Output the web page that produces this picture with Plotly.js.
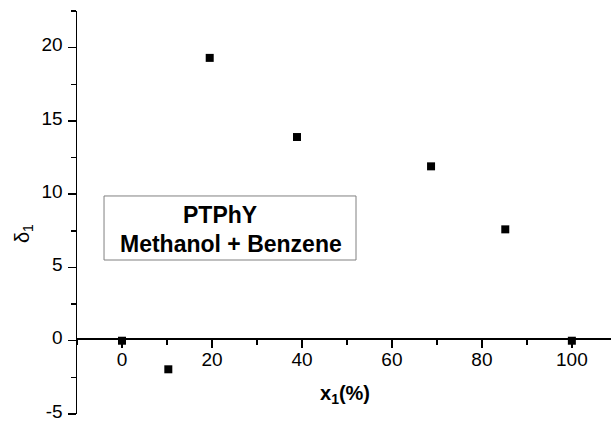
<!DOCTYPE html>
<html>
<head>
<meta charset="utf-8">
<script src="https://cdn.plot.ly/plotly-3.0.1.min.js"></script>
<style>html,body{margin:0;padding:0;background:#fff;}#chart{width:611px;height:421px;}</style>
</head>
<body>
<div id="chart"></div>
<script>
const xValues = [0, 10.3, 19.5, 38.9, 68.7, 85.2, 100];
const yValues = [0, -1.95, 19.3, 13.9, 11.9, 7.6, 0];
const xTickVals = [0, 20, 40, 60, 80, 100];
const yTickVals = [-5, 0, 5, 10, 15, 20];
const yTickText = ['-5', '0', '5', '10', '15', '20'];
const xTitle = '<b>x<sub>1</sub>(%)</b>';
const yTitle = 'δ<sub>1</sub>';
const boxLine1 = '<b>PTPhY</b>';
const boxLine2 = '<b>Methanol + Benzene</b>';

const font = 'Liberation Sans, Arial, sans-serif';

const trace = {
  x: xValues, y: yValues, type: 'scatter', mode: 'markers',
  marker: {symbol: 'square', size: 8, color: '#000'},
  showlegend: false, cliponaxis: false
};

const layout = {
  width: 611, height: 421,
  margin: {l: 77, r: 0, t: 11, b: 7},
  paper_bgcolor: '#fff', plot_bgcolor: '#fff',
  font: {family: font, color: '#000', size: 19},
  xaxis: {
    range: [-10, 108.7], anchor: 'free', position: 0.1878,
    showline: true, linecolor: '#000', linewidth: 1.5,
    showgrid: false, zeroline: false,
    tickvals: xTickVals, ticks: 'outside', ticklen: 8, tickwidth: 1.5, tickcolor: '#000',
    ticklabelstandoff: -5, ticklabeloverflow: 'allow',
    tickfont: {family: font, size: 19, color: '#000'},
    minor: {dtick: 10, tick0: 0, ticks: 'outside', ticklen: 5, tickwidth: 1.5, tickcolor: '#000', showgrid: false}
  },
  yaxis: {
    range: [-5, 22.5],
    showline: true, linecolor: '#000', linewidth: 1.5,
    showgrid: false, zeroline: false,
    tickvals: yTickVals, ticktext: yTickText, ticks: 'outside', ticklen: 8, tickwidth: 1.5, tickcolor: '#000',
    ticklabeloverflow: 'allow', ticklabelstandoff: 1, ticklabelshift: -3,
    tickfont: {family: font, size: 19, color: '#000'},
    minor: {dtick: 2.5, tick0: 0, ticks: 'outside', ticklen: 5, tickwidth: 1.5, tickcolor: '#000', showgrid: false}
  },
  shapes: [{
    type: 'rect', xref: 'paper', yref: 'paper',
    x0: 0.0506, x1: 0.5225, y0: 0.3821, y1: 0.541,
    line: {color: '#808080', width: 1}, fillcolor: 'rgba(0,0,0,0)'
  }],
  annotations: [
    {text: boxLine1, xref: 'paper', yref: 'paper', x: 0.268, y: 0.495, xanchor: 'center', yanchor: 'middle', showarrow: false, font: {family: font, size: 23, color: '#000'}},
    {text: boxLine2, xref: 'paper', yref: 'paper', x: 0.288, y: 0.4218, xanchor: 'center', yanchor: 'middle', showarrow: false, font: {family: font, size: 23, color: '#000'}},
    {text: xTitle, xref: 'paper', yref: 'paper', x: 0.502, y: 0.0476, xanchor: 'center', yanchor: 'middle', showarrow: false, font: {family: font, size: 20, color: '#000'}},
    {text: yTitle, xref: 'paper', yref: 'paper', x: -0.1, y: 0.448, xanchor: 'center', yanchor: 'middle', textangle: -90, showarrow: false, font: {family: font, size: 20, color: '#000'}}
  ]
};

Plotly.newPlot('chart', [trace], layout, {displayModeBar: false, staticPlot: true});
</script>
</body>
</html>
